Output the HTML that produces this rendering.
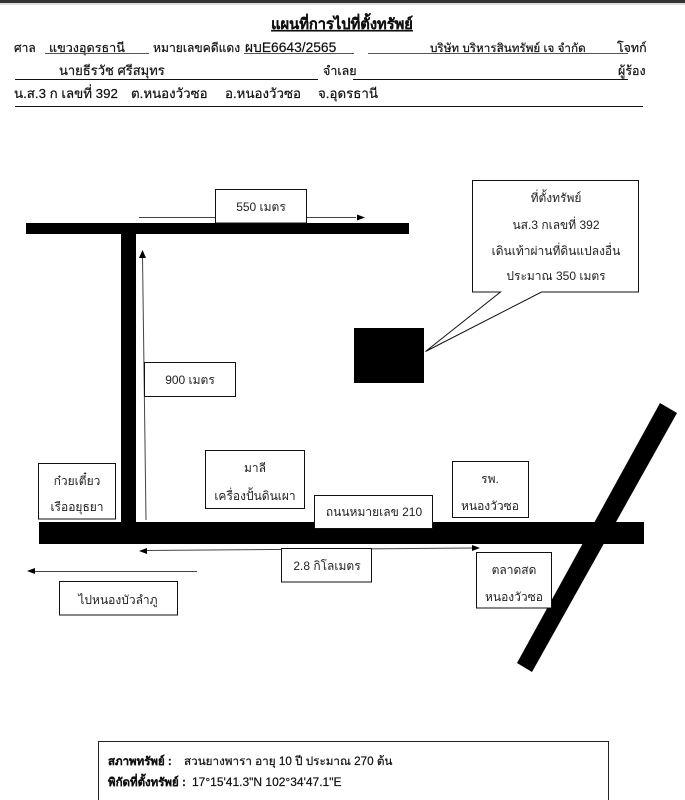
<!DOCTYPE html>
<html lang="th"><head><meta charset="utf-8"><style>
html,body{margin:0;padding:0;background:#fff}
svg{display:block}
text{font-family:"Liberation Sans","Noto Sans CJK SC",sans-serif;font-size:12px;fill:#222}
.m{text-anchor:middle}
.b{fill:#fff;stroke:#111;stroke-width:1}
.l{stroke:#444;stroke-width:1;fill:none}
.h text{fill:#111;stroke:#111;stroke-width:.2}
</style></head><body>
<svg width="685" height="800" viewBox="0 0 685 800" xmlns="http://www.w3.org/2000/svg">
<rect width="685" height="800" fill="#fff"/>
<rect width="685" height="3" fill="#333"/>
<rect y="3" width="685" height="2" fill="#ddd"/>
<g class="h">
<text x="342" y="29" class="m" style="font-size:14.700px;font-weight:bold;text-decoration:underline">แผนที่การไปที่ตั้งทรัพย์</text>
<text x="14" y="52">ศาล</text><text x="49" y="52" style="font-size:12.600px">แขวงอุดรธานี</text><text x="153" y="52" style="font-size:12.100px">หมายเลขคดีแดง</text><text x="245" y="52" style="font-size:13.800px">ผบE6643/2565</text><text x="430" y="52" style="font-size:11.700px">บริษัท บริหารสินทรัพย์ เจ จำกัด</text><text x="617" y="52" style="font-size:12.400px">โจทก์</text>
<text x="59" y="75" style="font-size:13px">นายธีรวัช ศรีสมุทร</text><text x="323" y="75" style="font-size:12.500px">จำเลย</text><text x="618" y="75" style="font-size:12.500px">ผู้ร้อง</text>
<text x="14" y="98" style="font-size:13.300px">น.ส.3 ก เลขที่ 392</text><text x="131" y="98" style="font-size:13.300px">ต.หนองวัวซอ</text><text x="225" y="98" style="font-size:13.300px">อ.หนองวัวซอ</text><text x="318" y="98" style="font-size:13.300px">จ.อุดรธานี</text>
</g>
<path d="M45 53.500H149M244 53.500H354M368 53.500H628" stroke="#555" stroke-width="1"/>
<path d="M15 79.500H318M353 79.500H628M15 106.500H643" stroke="#111" stroke-width="1"/>

<rect x="26" y="223" width="383" height="11" fill="#000"/>
<rect x="121" y="223" width="15" height="300" fill="#000"/>
<rect x="39" y="522" width="605" height="22" fill="#000"/>
<polygon points="660,403 677,413 532,672 517,663" fill="#000"/>
<rect x="354" y="328" width="70" height="55" fill="#000"/>

<path class="l" d="M139 217.500H356"/><polygon points="365,217.500 357,214.500 357,220.500" fill="#000"/>
<path class="l" d="M146 520L142.500 256"/><polygon points="142.500,250 139,258 146,258" fill="#000"/>
<path class="l" d="M146 550.500L473 548"/><polygon points="139,551 147,548 147,554" fill="#000"/><polygon points="480,548 472,545 472,551" fill="#000"/>
<path class="l" d="M197 571.500H34"/><polygon points="27,571 35,568 35,574" fill="#000"/>

<rect class="b" x="215.500" y="189.500" width="91" height="33.500"/><text x="261" y="211" class="m">550 เมตร</text>
<rect class="b" x="144.500" y="362.500" width="91" height="34"/><text x="190" y="384" class="m">900 เมตร</text>
<polygon class="b" points="472.500,180.500 638.500,180.500 638.500,292 541.500,292 425.500,351.500 500.500,292 472.500,292" stroke-linejoin="miter"/>
<text x="556" y="202" class="m">ที่ตั้งทรัพย์</text><text x="556" y="229" class="m">นส.3 กเลขที่ 392</text><text x="556" y="255" class="m">เดินเท้าผ่านที่ดินแปลงอื่น</text><text x="556" y="280" class="m">ประมาณ 350 เมตร</text>
<rect class="b" x="38.500" y="463.500" width="77" height="55.500"/><text x="77" y="485" class="m">ก๋วยเตี๋ยว</text><text x="77" y="511" class="m">เรืออยุธยา</text>
<rect class="b" x="205.500" y="450.500" width="99" height="58"/><text x="255" y="472" class="m">มาลี</text><text x="255" y="500" class="m">เครื่องปั้นดินเผา</text>
<rect class="b" x="314.500" y="495.500" width="118" height="33"/><text x="374" y="516" class="m">ถนนหมายเลข 210</text>
<rect class="b" x="452.500" y="461.500" width="76" height="56"/><text x="490" y="483" class="m">รพ.</text><text x="490" y="510" class="m">หนองวัวซอ</text>
<rect class="b" x="476.500" y="552.500" width="75" height="55.500"/><text x="514" y="574" class="m">ตลาดสด</text><text x="514" y="601" class="m">หนองวัวซอ</text>
<rect class="b" x="281.500" y="548.500" width="90" height="33.500"/><text x="327" y="570" class="m">2.8 กิโลเมตร</text>
<rect class="b" x="59.500" y="581.500" width="118" height="33.500"/><text x="118" y="604" class="m">ไปหนองบัวลำภู</text>

<path d="M98.500 801V741.500H608.500V801" fill="none" stroke="#222" stroke-width="1"/>
<g class="h">
<text x="108" y="765" style="font-weight:bold;font-size:11.500px">สภาพทรัพย์ :</text><text x="184" y="765" style="font-size:11.700px">สวนยางพารา อายุ 10 ปี ประมาณ 270 ต้น</text>
<text x="108" y="786" style="font-weight:bold;font-size:11.500px">พิกัดที่ตั้งทรัพย์ :</text><text x="192" y="786">17°15'41.3"N 102°34'47.1"E</text>
</g>
</svg>
</body></html>
